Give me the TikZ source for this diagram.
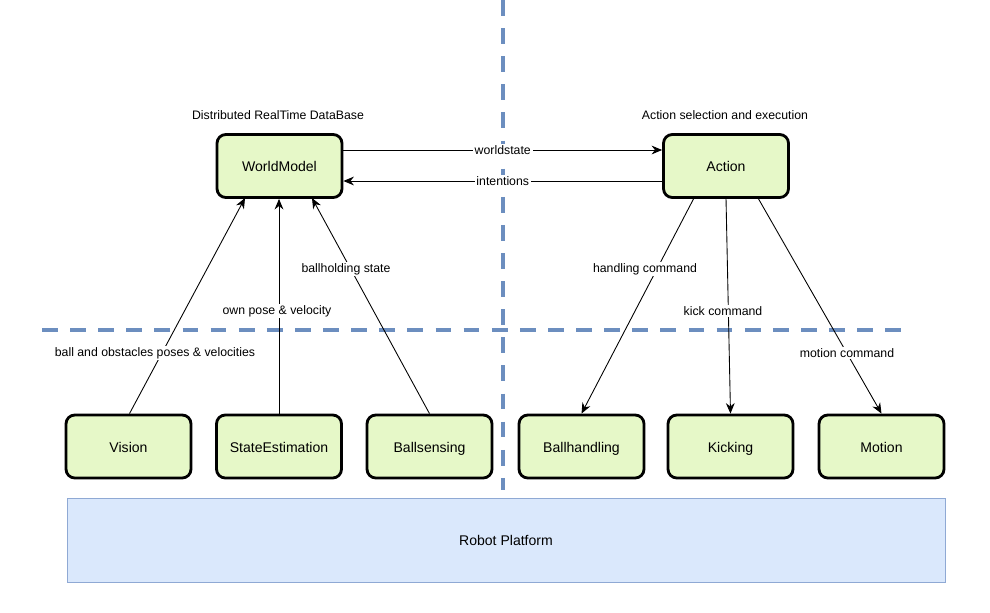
\documentclass[tikz,border=0pt]{standalone}
\usepackage{fontspec}
\setmainfont{Liberation Sans}
\usetikzlibrary{arrows.meta}
\definecolor{gfill}{HTML}{E6F8C8}
\definecolor{bfill}{HTML}{DAE8FC}
\definecolor{bdraw}{HTML}{8FA9D4}
\definecolor{dash}{HTML}{6C8EBF}
\begin{document}
\begin{tikzpicture}[x=0.02cm,y=-0.02cm,
  box/.style={draw=black,line width=1.6pt,fill=gfill,rounded corners=5pt,minimum width=2.5cm,minimum height=1.26cm,inner sep=0pt,font=\footnotesize,text height=1.6ex,text depth=0.4ex},
  lbl/.style={font=\scriptsize,fill=white,inner sep=1pt},
  arr/.style={-{Stealth[length=6pt,width=5pt]},line width=0.5pt},
  dsh/.style={draw=dash,line width=2pt,dash pattern=on 9pt off 7pt}]
\useasboundingbox (0,0) rectangle (990,612);
\draw[dsh] (503,0) -- (503,490);
\draw[dsh] (42,330) -- (908,330);
\node[draw=bdraw,fill=bfill,minimum width=17.56cm,minimum height=1.68cm,inner sep=0pt,font=\footnotesize] (rp) at (506,540) {Robot Platform};
\node[box] (wm) at (279.5,166) {WorldModel};
\node[box] (ac) at (726,166) {Action};
\node[box] (vi) at (128.5,446.5) {Vision};
\node[box] (se) at (279,446.5) {StateEstimation};
\node[box] (bs) at (429.5,446.5) {Ballsensing};
\node[box] (bh) at (581.5,446.5) {Ballhandling};
\node[box] (ki) at (730.5,446.5) {Kicking};
\node[box] (mo) at (881.5,446.5) {Motion};
\node[font=\scriptsize] (t1) at (278,115) {Distributed RealTime DataBase};
\node[font=\scriptsize] (t2) at (725,115) {Action selection and execution};
\draw[arr] (wm.east |- 0,150) -- node[lbl] {worldstate} (ac.west |- 0,150);
\draw[arr] (ac.west |- 0,181) -- node[lbl] {intentions} (wm.east |- 0,181);
\draw[arr] (vi.north) ++(1,0) coordinate (v0) (v0) -- (245,198);
\node[lbl] (l1) at (155,353) {ball and obstacles poses \& velocities};
\draw[arr] (se.north) -- (se.north |- wm.south);
\node[lbl] (l2) at (277,311) {own pose \& velocity};
\draw[arr] (bs.north) -- (312,198);
\node[lbl] (l3) at (346,269) {ballholding state};
\draw[arr] (694,198) -- (bh.north);
\node[lbl] (l4) at (645,269) {handling command};
\draw[arr] (726,198) -- (ki.north);
\node[lbl] (l5) at (723,311) {kick command};
\draw[arr] (758,198) -- (mo.north);
\node[lbl] (l6) at (847,353) {motion command};
\end{tikzpicture}
\end{document}
